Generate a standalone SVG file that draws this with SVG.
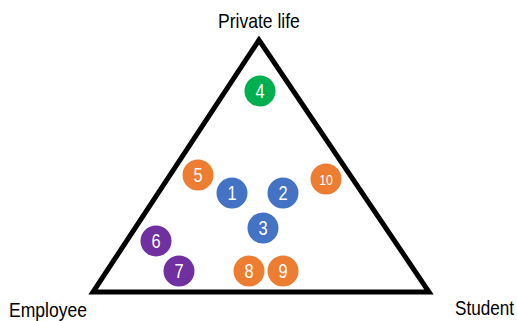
<svg xmlns="http://www.w3.org/2000/svg" width="517" height="321" viewBox="0 0 517 321">
  <style>
    .lbl { font-family: "Liberation Sans", Arial, sans-serif; font-size: 20px; fill: #000; }
    .num { font-family: "Liberation Sans", Arial, sans-serif; font-size: 20px; fill: #fff; text-anchor: middle; }
    .small { font-size: 15px; }
    .orange { fill: #ED7D31; }
    .blue { fill: #4472C4; }
    .green { fill: #00B050; }
    .purple { fill: #7030A0; }
  </style>
  <rect width="517" height="321" fill="#fff"/>
  <g id="connectors">
    <polygon points="259,40 93,292 429,292" fill="none" stroke="#000" stroke-width="5" stroke-linejoin="miter"/>
  </g>
  <g id="labels">
    <text class="lbl" transform="translate(218,28) scale(0.878,1)">Private life</text>
    <text class="lbl" transform="translate(9,317) scale(0.877,1)">Employee</text>
    <text class="lbl" transform="translate(455,315) scale(0.856,1)">Student</text>
  </g>
  <g id="n4"><circle class="green" cx="260" cy="91" r="15.5"/><text class="num" transform="translate(260,98) scale(0.82,1)">4</text></g>
  <g id="n5"><circle class="orange" cx="198" cy="175" r="15.5"/><text class="num" transform="translate(198,182) scale(0.82,1)">5</text></g>
  <g id="n1"><circle class="blue" cx="232" cy="193" r="15.5"/><text class="num" transform="translate(232,200) scale(0.82,1)">1</text></g>
  <g id="n2"><circle class="blue" cx="283" cy="193" r="15.5"/><text class="num" transform="translate(283,200) scale(0.82,1)">2</text></g>
  <g id="n10"><circle class="orange" cx="326" cy="179" r="15.5"/><text class="num small" transform="translate(326,184.5) scale(0.82,1)">10</text></g>
  <g id="n3"><circle class="blue" cx="263" cy="228" r="15.5"/><text class="num" transform="translate(263,235) scale(0.82,1)">3</text></g>
  <g id="n6"><circle class="purple" cx="156" cy="241" r="15.5"/><text class="num" transform="translate(156,248) scale(0.82,1)">6</text></g>
  <g id="n7"><circle class="purple" cx="179" cy="271" r="15.5"/><text class="num" transform="translate(179,278) scale(0.82,1)">7</text></g>
  <g id="n8"><circle class="orange" cx="249" cy="271" r="15.5"/><text class="num" transform="translate(249,278) scale(0.82,1)">8</text></g>
  <g id="n9"><circle class="orange" cx="283" cy="271" r="15.5"/><text class="num" transform="translate(283,278) scale(0.82,1)">9</text></g>
</svg>
